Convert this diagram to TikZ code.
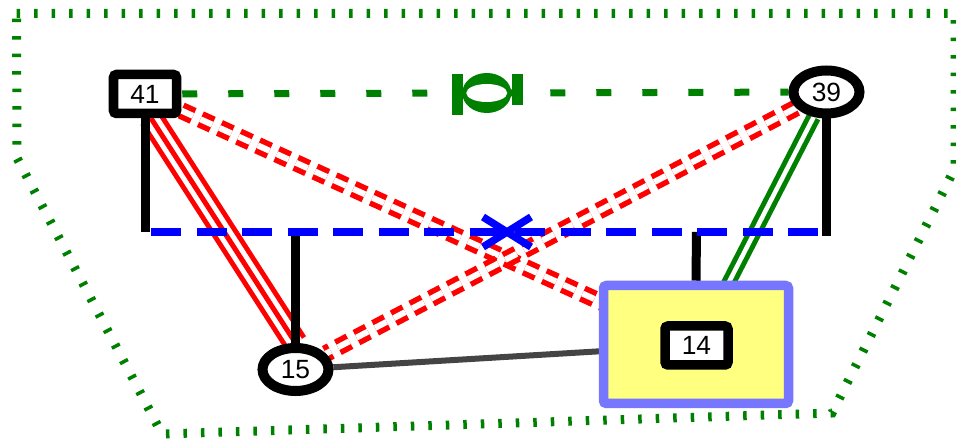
\documentclass[tikz,border=0pt]{standalone}
\usepackage{fontspec}
\setmainfont{Liberation Sans}
\usetikzlibrary{shapes.geometric, backgrounds, calc}
\definecolor{GN}{RGB}{0,128,0}
\definecolor{BL}{RGB}{0,0,255}
\definecolor{RD}{RGB}{255,0,0}
\definecolor{PU}{RGB}{118,118,255}
\definecolor{YL}{RGB}{255,255,128}
\definecolor{DG}{RGB}{68,68,68}

\begin{document}
\begin{tikzpicture}[x=0.2mm, y=-0.2mm,
  sqnode/.style={rectangle, draw=black, fill=white, line width=1.9mm,
                 rounded corners=0.6mm, minimum width=12.6mm,
                 minimum height=7.8mm, inner sep=0pt,
                 font=\fontsize{15pt}{17pt}\selectfont},
  rnode/.style={ellipse, draw=black, fill=white, line width=2mm,
                minimum width=13.2mm, minimum height=8.6mm, inner sep=0pt,
                font=\fontsize{15pt}{17pt}\selectfont},
  grp/.style={rectangle, draw=PU, fill=YL, line width=1.9mm,
              rounded corners=0.6mm, minimum width=37mm, minimum height=23.6mm},
  rtriple/.style={draw=white, line width=3mm,
                  preaction={draw=RD, line width=5mm},
                  postaction={draw=RD, line width=1mm}},
  gdouble/.style={draw=GN, line width=1mm, double=white, double distance=0.9mm},
  rdash/.style={draw=RD, line width=1.1mm, double=white, double distance=1.2mm,
                dash pattern=on 2.6mm off 1.6mm},
  gdash/.style={draw=GN, line width=1.4mm, dash pattern=on 3mm off 6.2mm,
                dash phase=9mm},
  bdash/.style={draw=BL, line width=1.5mm, dash pattern=on 6mm off 3.1mm,
                dash phase=7.9mm},
  stem/.style={draw=black, line width=1.8mm}
]
\useasboundingbox (0,0) rectangle (956,441);

% nodes
\node[sqnode] (n41) at (145,94) {41};
\node[rnode] (n39) at (826.5,92) {39};
\node[rnode] (n15) at (295.5,369.5) {15};
\node[grp] (g14) at (696,344.5) {};
\node[sqnode] (n14) at (696.5,345.5) {14};

% blue bar
\coordinate (bl) at (145,232);
\coordinate (br) at (826.5,232);
\coordinate (xm) at (507,232);
\coordinate (sym) at ($(n41)!0.5!(n39)$);

\begin{scope}[on background layer]
  % dotted hull
  \draw[GN, line width=1.8mm, dash pattern=on 0.7mm off 2.8mm]
    (16.5,13.5) -- (955,13.5) -- (955,168) -- (832,413) -- (162,434)
    -- (17,158) -- cycle;
  \draw[gdash] (n41) -- (n39);
  % links
  \draw[rtriple] ($(n41.south)+(6,0)$) -- (n15.north);
  \draw[gdouble] (n39) -- (n14);
  \foreach \a/\b in {n41/n14, n39/n15}{
    \draw[rdash] (\a) -- (\b);
  }
  \draw[DG, line width=1.2mm] (n15) -- (n14);
  % stems to the bar
  \draw[stem] (n41) -- (bl);
  \draw[stem] (n39) -- ($(br)+(0,4)$);
  \draw[stem] (n15 |- bl) -- (n15);
  \draw[stem] (n14 |- bl) -- (g14.north);
  \draw[bdash] (bl) -- (br);
  \draw[BL, line width=1.5mm]
    ($(xm)+(-24,-15)$) -- ($(xm)+(24,15)$)
    ($(xm)+(-24,15)$) -- ($(xm)+(24,-15)$);
\end{scope}

% symbol on the 41--39 link
\fill[GN] ($(sym)+(-34,-19)$) rectangle ($(sym)+(-23,22)$);
\fill[GN] ($(sym)+(26,-19)$) rectangle ($(sym)+(37,12)$);
\fill[GN] ($(sym)+(1,0)$) ellipse [x radius=24.5, y radius=20];
\fill[white] ($(sym)+(1,0)$) ellipse [x radius=20.5, y radius=9];
\end{tikzpicture}
\end{document}
